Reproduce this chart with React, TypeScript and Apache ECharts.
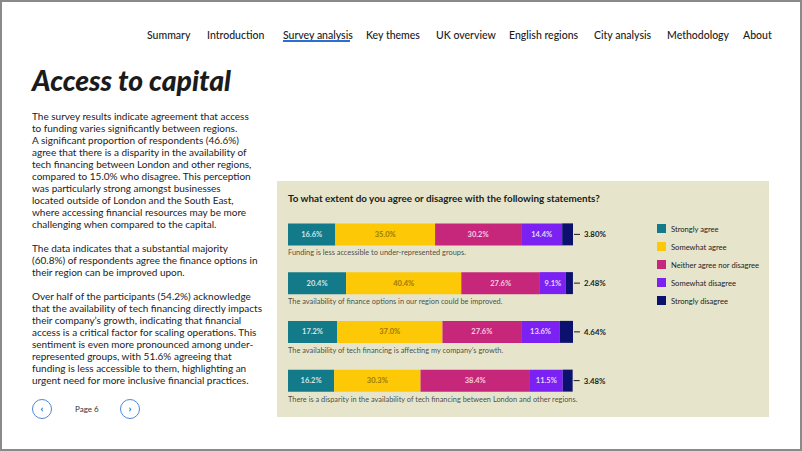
import React, { useEffect, useRef } from "react";
import * as echarts from "echarts";

const navItems = ["Summary", "Introduction", "Survey analysis", "Key themes", "UK overview", "English regions", "City analysis", "Methodology", "About"];
const navX = [147, 207, 283, 366, 436, 509, 594, 667, 743];

const para1 = [
  "The survey results indicate agreement that access",
  "to funding varies significantly between regions.",
  "A significant proportion of respondents (46.6%)",
  "agree that there is a disparity in the availability of",
  "tech financing between London and other regions,",
  "compared to 15.0% who disagree. This perception",
  "was particularly strong amongst businesses",
  "located outside of London and the South East,",
  "where accessing financial resources may be more",
  "challenging when compared to the capital.",
];
const para2 = [
  "The data indicates that a substantial majority",
  "(60.8%) of respondents agree the finance options in",
  "their region can be improved upon.",
];
const para3 = [
  "Over half of the participants (54.2%) acknowledge",
  "that the availability of tech financing directly impacts",
  "their company\u2019s growth, indicating that financial",
  "access is a critical factor for scaling operations. This",
  "sentiment is even more pronounced among under-",
  "represented groups, with 51.6% agreeing that",
  "funding is less accessible to them, highlighting an",
  "urgent need for more inclusive financial practices.",
];

const chartTitle = "To what extent do you agree or disagree with the following statements?";
const categories = [
  "Funding is less accessible to under-represented groups.",
  "The availability of finance options in our region could be improved.",
  "The availability of tech financing is affecting my company\u2019s growth.",
  "There is a disparity in the availability of tech financing between London and other regions.",
];
const seriesNames = ["Strongly agree", "Somewhat agree", "Neither agree nor disagree", "Somewhat disagree", "Strongly disagree"];
const stronglyAgree = [16.6, 20.4, 17.2, 16.2];
const somewhatAgree = [35.0, 40.4, 37.0, 30.3];
const neither = [30.2, 27.6, 27.6, 38.4];
const somewhatDisagree = [14.4, 9.1, 13.6, 11.5];
const stronglyDisagree = [3.8, 2.48, 4.64, 3.48];

const seriesColors = ["#127a88", "#fdc806", "#c6277a", "#7b22f2", "#0c1170"];
const labelColors = ["#cfe6ec", "#9c7a06", "#f6cde2", "#e6d6fd", "#ffffff"];

const FONT = "Lato, 'Noto Sans', sans-serif";

function Chart() {
  const ref = useRef<HTMLDivElement>(null);
  useEffect(() => {
    if (!ref.current) return;
    const chart = echarts.init(ref.current, undefined, { renderer: "svg" });
    const values = [stronglyAgree, somewhatAgree, neither, somewhatDisagree, stronglyDisagree];
    const barSeries: any[] = values.map((vals, i) => {
      const last = i === values.length - 1;
      return {
        name: seriesNames[i],
        type: "bar",
        stack: "total",
        barWidth: 22,
        data: vals,
        itemStyle: { color: seriesColors[i] },
        label: last
          ? {
              show: true,
              position: "right",
              distance: 1,
              formatter: (p: any) => "{d|}{v|" + Number(p.value).toFixed(2) + "%}",
              rich: {
                d: { width: 6, height: 1, backgroundColor: "#1b1b1b" },
                v: { padding: [0, 0, 0, 4], fontSize: 7.8, fontWeight: "bold", color: "#1b1b1b", fontFamily: FONT },
              },
            }
          : {
              show: true,
              position: "inside",
              formatter: (p: any) => Number(p.value).toFixed(1) + "%",
              fontSize: 7.5,
              fontWeight: "bold",
              color: labelColors[i],
              fontFamily: FONT,
            },
      };
    });
    barSeries.push({
      type: "scatter",
      symbolSize: 0,
      silent: true,
      data: categories.map((c, i) => ({ value: [0, i], name: c })),
      label: {
        show: true,
        position: "right",
        distance: 0,
        offset: [0, 18.5],
        formatter: "{b}",
        fontSize: 7.4,
        color: "#222",
        fontFamily: FONT,
      },
    });
    chart.setOption({
      animation: false,
      backgroundColor: "#e6e5cc",
      textStyle: { fontFamily: FONT },
      title: {
        text: chartTitle,
        left: 11,
        top: 12,
        padding: 0,
        textStyle: { fontSize: 9.85, fontWeight: "bold", color: "#1b1b1b", fontFamily: FONT },
      },
      legend: {
        data: seriesNames,
        orient: "vertical",
        left: 380,
        top: 43,
        padding: 0,
        itemWidth: 9,
        itemHeight: 9,
        itemGap: 9,
        icon: "rect",
        textStyle: { fontSize: 7.6, color: "#222", fontFamily: FONT },
      },
      grid: { left: 11, right: 196, top: 29, bottom: 12 },
      xAxis: { type: "value", min: 0, max: 100, show: false },
      yAxis: { type: "category", inverse: true, data: categories, show: false },
      series: barSeries,
    });
    return () => chart.dispose();
  }, []);
  return <div ref={ref} style={{ position: "absolute", left: 277, top: 181, width: 492, height: 236 }} />;
}

export default function App() {
  const textStyle: React.CSSProperties = {
    fontFamily: FONT,
    fontSize: 10,
    lineHeight: "12px",
    color: "#222",
    whiteSpace: "nowrap",
    margin: 0,
  };
  const circle: React.CSSProperties = {
    position: "absolute",
    top: 399,
    width: 18,
    height: 18,
    borderRadius: "50%",
    border: "1px solid #4f86d9",
    color: "#2a5fb8",
    fontFamily: FONT,
    fontSize: 10,
    fontWeight: 700,
    lineHeight: "17px",
    textAlign: "center",
  };
  return (
    <div
      style={{
        position: "fixed",
        left: 0,
        top: 0,
        width: 802,
        height: 451,
        boxSizing: "border-box",
        border: "2px solid #8a8a8a",
        background: "#fff",
        overflow: "hidden",
      }}
    >
      <div style={{ position: "absolute", left: -2, top: -2, width: 802, height: 451 }}>
        {navItems.map((n, i) => (
          <div
            key={n}
            style={{
              position: "absolute",
              left: navX[i],
              top: 28,
              fontFamily: FONT,
              fontSize: 10.5,
              fontWeight: 500,
              lineHeight: "14px",
              color: "#1b1b1b",
              whiteSpace: "nowrap",
            }}
          >
            {n}
          </div>
        ))}
        <div style={{ position: "absolute", left: 283, top: 40, width: 67, height: 2, background: "#2a6fd6" }} />
        <div
          style={{
            position: "absolute",
            left: 32,
            top: 65,
            fontFamily: FONT,
            fontSize: 28.3,
            fontWeight: 900,
            fontStyle: "italic",
            lineHeight: "31px",
            color: "#1b1b1b",
            whiteSpace: "nowrap",
          }}
        >
          Access to capital
        </div>
        <div style={{ position: "absolute", left: 32, top: 110 }}>
          {[para1, para2, para3].map((p, k) => (
            <div key={k} style={{ ...textStyle, marginBottom: k < 2 ? 12 : 0 }}>
              {p.map((l, j) => (
                <div key={j}>{l}</div>
              ))}
            </div>
          ))}
        </div>
        <div style={{ ...circle, left: 32 }}>{"\u2039"}</div>
        <div
          style={{
            position: "absolute",
            left: 75,
            top: 403,
            fontFamily: FONT,
            fontSize: 8,
            lineHeight: "12px",
            color: "#333",
          }}
        >
          Page 6
        </div>
        <div style={{ ...circle, left: 120 }}>{"\u203a"}</div>
        <Chart />
      </div>
    </div>
  );
}
